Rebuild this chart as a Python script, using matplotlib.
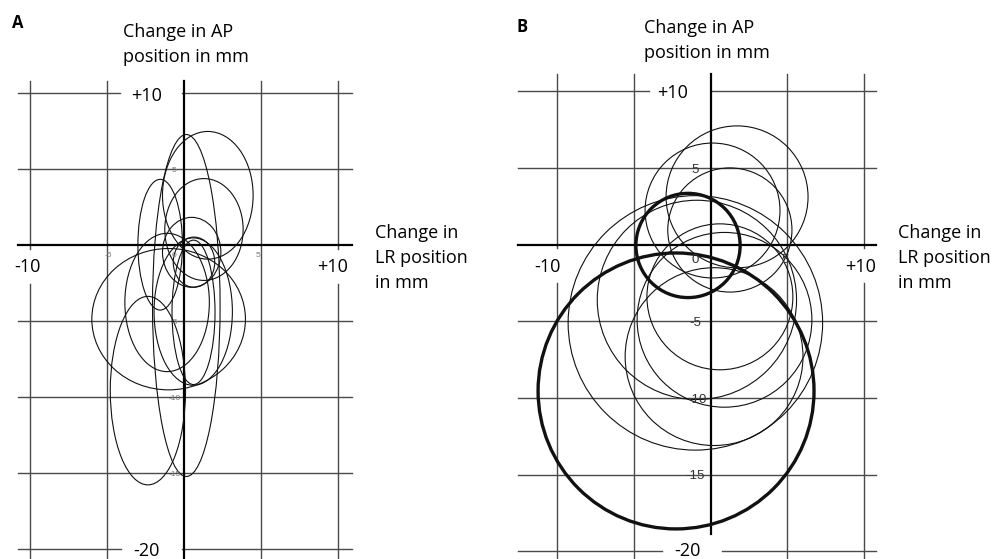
import matplotlib
matplotlib.use("Agg")
import matplotlib.pyplot as plt
from matplotlib.patches import Ellipse, Circle

# ---------------- data (mm) ----------------
grid_x = [-10, -5, 0, 5, 10]
grid_y = [10, 5, 0, -5, -10, -15, -20]

# Panel A: ellipses (centre x, centre y, width, height) in mm
a_cx = [-1.0, -2.35, 0.15, 1.55, 1.3, -1.55, 0.5, -1.1, 0.6, 0.62, 0.65]
a_cy = [-4.9, -9.6, -4.0, 3.25, 1.0, 0.0, -0.5, -3.8, -4.4, -4.45, -1.15]
a_w = [10.0, 4.9, 4.4, 5.9, 5.1, 2.9, 3.8, 5.5, 5.1, 2.8, 2.7]
a_h = [9.3, 12.4, 22.5, 8.4, 6.7, 8.6, 4.6, 9.1, 9.7, 9.5, 3.3]

# Panel B: thin circles (centre x, centre y, radius) in mm
b_cx = [1.72, 0.12, 1.25, 0.6, -0.9, 0.9, -1.0, 0.22]
b_cy = [3.12, 2.23, 0.96, -3.4, -3.6, -4.9, -5.1, -7.3]
b_r = [4.63, 4.4, 4.05, 4.76, 6.5, 5.7, 8.3, 5.8]
# Panel B: thick circles
bt_cx = [-1.48, -2.26]
bt_cy = [-0.05, -9.54]
bt_r = [3.4, 9.0]

a_small_labels = ["5", "-5", "0", "5", "-5", "-10", "-15"]
b_small_labels = ["5", "0", "5", "-5", "-10", "-15"]

BIG = "Open Sans"
SMALL = "Liberation Sans"
GRID_C = "#4a4a4a"

fig = plt.figure(figsize=(9.97, 5.59), dpi=100)
fig.patch.set_facecolor("white")

axA = fig.add_axes([0, 0, 490 / 997, 1])
axB = fig.add_axes([490 / 997, 0, 507 / 997, 1])
for ax in (axA, axB):
    ax.set_axis_off()

axA.set_xlim(-184 / 15.36, (490 - 184) / 15.36)
axA.set_ylim((244.7 - 559) / 15.2, 244.7 / 15.2)
axB.set_xlim((490 - 710.7) / 15.33, (997 - 710.7) / 15.33)
axB.set_ylim((244.7 - 559) / 15.33, 244.7 / 15.33)


def draw_grid(ax, hx0, hx1, vtop, axis_bottom, top_gap, bot_gap, side_gap):
    for gy in grid_y:
        if gy == 0:
            ax.plot([hx0, hx1], [0, 0], color="black", lw=1.6, zorder=2)
        elif gy == grid_y[0]:
            ax.plot([hx0, top_gap[0]], [gy, gy], color=GRID_C, lw=1.0, zorder=1)
            ax.plot([top_gap[1], hx1], [gy, gy], color=GRID_C, lw=1.0, zorder=1)
        elif gy == grid_y[-1]:
            ax.plot([hx0, bot_gap[0]], [gy, gy], color=GRID_C, lw=1.0, zorder=1)
            ax.plot([bot_gap[1], hx1], [gy, gy], color=GRID_C, lw=1.0, zorder=1)
        else:
            ax.plot([hx0, hx1], [gy, gy], color=GRID_C, lw=1.0, zorder=1)
    for gx in grid_x:
        if gx == 0:
            ax.plot([0, 0], [vtop, axis_bottom], color="black", lw=1.6, zorder=2)
        elif abs(gx) == 10:
            ax.plot([gx, gx], [vtop, side_gap[0]], color=GRID_C, lw=1.0, zorder=1)
            ax.plot([gx, gx], [side_gap[1], -22], color=GRID_C, lw=1.0, zorder=1)
        else:
            ax.plot([gx, gx], [vtop, -22], color=GRID_C, lw=1.0, zorder=1)


TITLE_KW = dict(fontsize=13, family=BIG, ha="left", va="center", linespacing=1.5)
NUM_KW = dict(fontsize=13, family=BIG, ha="center", va="center")

# ---------------- Panel A ----------------
draw_grid(axA, -10.8, 10.94, 10.77, -22, (-4.17, -0.13), (-4.1, -0.13), (-0.25, -2.6))
for cx, cy, w, h in zip(a_cx, a_cy, a_w, a_h):
    axA.add_patch(Ellipse((cx, cy), w, h, fill=False, ec="#111111", lw=0.8, zorder=3))

a_small_pos = [(-0.65, 4.9), (-4.95, -0.7), (-0.65, -0.7), (4.8, -0.7),
               (-0.6, -5.1), (-0.6, -10.1), (-0.6, -15.15)]
for lab, (x, y) in zip(a_small_labels, a_small_pos):
    axA.text(x, y, lab, fontsize=6, family=SMALL, color="#777777",
             ha="center", va="center", zorder=4)

axA.text(-2.41, 9.78, "+10", **NUM_KW)
axA.text(-10.22, -1.47, "-10", **NUM_KW)
axA.text(9.64, -1.47, "+10", **NUM_KW)
axA.text(-2.47, -20.15, "-20", **NUM_KW)
axA.text(-3.97, 13.2, "Change in AP\nposition in mm", **TITLE_KW)
axA.text(12.43, -0.85, "Change in\nLR position\nin mm", **TITLE_KW)
axA.text(-10.81, 14.59, "A", fontsize=12, family=BIG, weight="bold",
         ha="center", va="center")

# ---------------- Panel B ----------------
draw_grid(axB, -12.57, 10.78, 11.13, -18.87, (-4.0, 0.07), (-3.2, 0.73), (-0.2, -2.5))
for cx, cy, r in zip(b_cx, b_cy, b_r):
    axB.add_patch(Circle((cx, cy), r, fill=False, ec="#111111", lw=0.8, zorder=3))
for cx, cy, r in zip(bt_cx, bt_cy, bt_r):
    axB.add_patch(Circle((cx, cy), r, fill=False, ec="#111111", lw=2.4, zorder=3))

b_small_pos = [(-1.0, 4.9), (-1.0, -1.0), (4.85, -1.0), (-1.0, -5.1),
               (-0.9, -10.1), (-1.0, -15.1)]
for lab, (x, y) in zip(b_small_labels, b_small_pos):
    axB.text(x, y, lab, fontsize=9.5, family=SMALL, color="#333333",
             ha="center", va="center", zorder=4)

axB.text(-2.46, 9.9, "+10", **NUM_KW)
axB.text(-10.68, -1.45, "-10", **NUM_KW)
axB.text(9.8, -1.45, "+10", **NUM_KW)
axB.text(-1.55, -19.95, "-20", **NUM_KW)
axB.text(-4.35, 13.3, "Change in AP\nposition in mm", **TITLE_KW)
axB.text(12.22, -0.85, "Change in\nLR position\nin mm", **TITLE_KW)
axB.text(-12.31, 14.2, "B", fontsize=12, family=BIG, weight="bold",
         ha="center", va="center")

fig.savefig("out.png", dpi=100)
